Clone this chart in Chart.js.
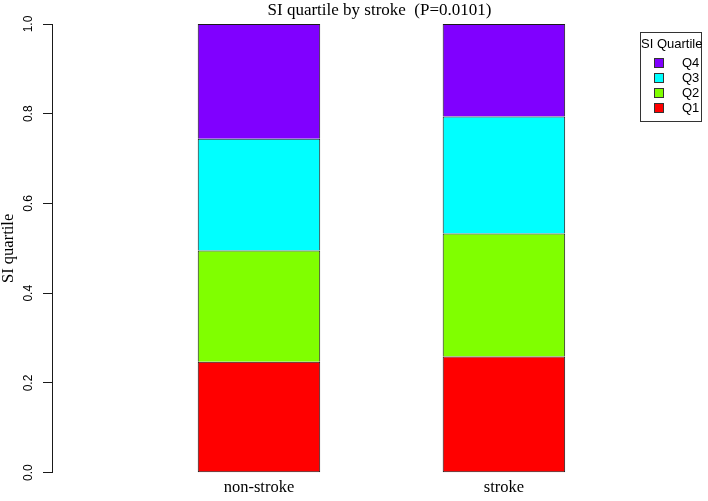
<!DOCTYPE html>
<html lang="en">
<head>
<meta charset="UTF-8">
<title>SI quartile by stroke</title>
<script src="https://cdn.jsdelivr.net/npm/chart.js"></script>
<style>
  body {
    margin: 0;
    background: #fff;
  }

  .wrap {
    position: relative;
    width: 708px;
    height: 501px;
  }

  .legend-box {
    position: absolute;
    left: 640px;
    top: 32px;
    width: 60px;
    height: 88px;
    border: 1px solid #333;
    background: #fff;
    font-family: 'Liberation Sans', Arial, sans-serif;
    font-size: 13px;
    color: #000;
  }

  .legend-box .ttl {
    text-align: center;
    margin-top: 3px;
    line-height: 15px;
    white-space: nowrap;
  }

  .legend-box ul {
    list-style: none;
    margin: 4px 0 0 0;
    padding: 0;
  }

  .legend-box li {
    display: flex;
    align-items: center;
    height: 15px;
    line-height: 15px;
  }

  .legend-box .sw {
    width: 8px;
    height: 8px;
    border: 1px solid #333;
    margin-left: 13px;
    margin-right: 18px;
  }
</style>
</head>
<body>

<div class="wrap">
  <canvas id="chart" width="708" height="501"></canvas>
  <div class="legend-box" id="legend"></div>
</div>

<script>
const categories = ['non-stroke', 'stroke'];
const quartileNames = ['Q1', 'Q2', 'Q3', 'Q4'];
const q1Share = [0.247, 0.259];
const q2Share = [0.248, 0.274];
const q3Share = [0.249, 0.261];
const q4Share = [0.256, 0.206];
const quartileColors = ['#FF0000', '#80FF00', '#00FFFF', '#8000FF'];
const yTickValues = [0, 0.2, 0.4, 0.6, 0.8, 1.0];

const serif = "'Liberation Serif', 'Times New Roman', serif";
const sans = "'Liberation Sans', Arial, sans-serif";
const lineColor = '#1a1a1a';

const shares = [q1Share, q2Share, q3Share, q4Share];
const datasets = quartileNames.map((name, i) => ({
  label: name,
  data: shares[i].map((v, j) => ({ x: j, y: v })),
  backgroundColor: quartileColors[i],
  borderColor: lineColor,
  // one line between stacked pieces, like R
  borderWidth: i === 0 ? 1 : { top: 1, left: 1, right: 1, bottom: 0 },
  borderSkipped: false,
  categoryPercentage: 1,
  barPercentage: 0.5
}));

// R-style legend box, built from the chart's own datasets
const htmlLegend = {
  id: 'htmlLegend',
  afterUpdate(chart) {
    const box = document.getElementById('legend');
    let html = '<div class="ttl">SI Quartile</div><ul>';
    chart.data.datasets.slice().reverse().forEach(ds => {
      html += '<li><span class="sw" style="background:' + ds.backgroundColor + '"></span>' + ds.label + '</li>';
    });
    box.innerHTML = html + '</ul>';
  }
};

new Chart(document.getElementById('chart'), {
  type: 'bar',
  data: { datasets: datasets },
  plugins: [htmlLegend],
  options: {
    responsive: false,
    animation: false,
    layout: { padding: { top: 0, right: 1, bottom: 0, left: 0 } },
    plugins: {
      legend: { display: false },
      tooltip: { enabled: false },
      title: {
        display: true,
        fullSize: false,
        text: 'SI quartile by stroke  (P=0.0101)',
        color: '#000',
        font: { family: serif, size: 17, weight: 'normal' },
        padding: { top: 0, bottom: 3.6 }
      }
    },
    scales: {
      x: {
        type: 'linear',
        stacked: true,
        offset: false,
        min: -0.845,
        max: 1.829,
        grid: { display: false, drawTicks: false, tickLength: 0 },
        border: { display: false },
        afterBuildTicks: scale => {
          scale.ticks = categories.map((c, i) => ({ value: i }));
        },
        afterFit: scale => { scale.height = 28.3; },
        ticks: {
          autoSkip: false,
          maxRotation: 0,
          padding: 5,
          color: '#000',
          font: { family: serif, size: 16.5 },
          callback: v => categories[v]
        }
      },
      y: {
        min: 0,
        max: 1,
        stacked: true,
        afterBuildTicks: scale => {
          scale.ticks = yTickValues.map(v => ({ value: v }));
        },
        afterFit: scale => { scale.width = 52; },
        grid: {
          drawOnChartArea: false,
          drawTicks: true,
          tickLength: 9,
          tickColor: lineColor
        },
        border: { display: true, color: lineColor, width: 1 },
        ticks: {
          minRotation: 90,
          maxRotation: 90,
          crossAlign: 'center',
          padding: 5.5,
          color: '#000',
          font: { family: sans, size: 12 },
          callback: v => v.toFixed(1)
        },
        title: {
          display: true,
          text: 'SI quartile',
          color: '#000',
          font: { family: serif, size: 16.5 },
          padding: { top: -1.5, bottom: 0 }
        }
      }
    }
  }
});
</script>

</body>
</html>
